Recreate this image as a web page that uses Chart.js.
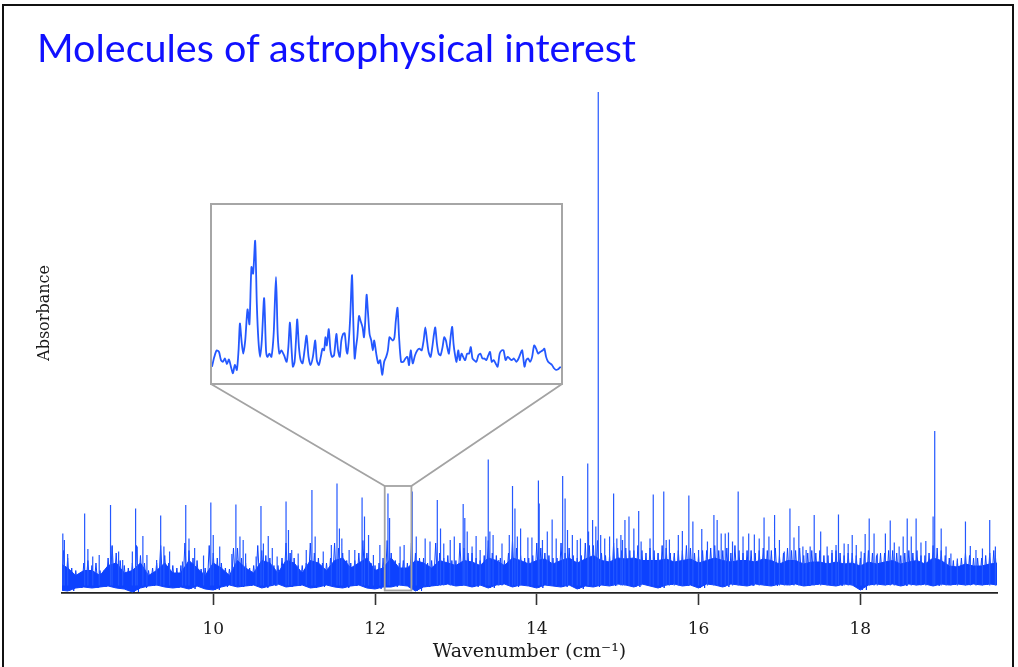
<!DOCTYPE html>
<html>
<head>
<meta charset="utf-8">
<title>Molecules of astrophysical interest</title>
<script src="https://cdn.jsdelivr.net/npm/chart.js@4.4.0/dist/chart.umd.min.js"></script>
<style>
  html, body { margin: 0; padding: 0; background: #fff; }
  #slide { position: relative; width: 1018px; height: 667px; overflow: hidden; }
  #frame { position: absolute; left: 2px; top: 4px; width: 1012px; height: 700px;
           border: 2px solid #111; box-sizing: border-box; }
  #heading { position: absolute; left: 37px; top: 30px; margin: 0; font-family: Lato, sans-serif;
             font-weight: normal; color: #1010ff; line-height: 1; white-space: nowrap; }
  #main { position: absolute; left: 0; top: 0; }
  #zoomBox { position: absolute; left: 210px; top: 203px; width: 353px; height: 182px;
             border: 2px solid #a6a6a6; box-sizing: border-box; background: #fff; }
  #zoomBox canvas { display: block; }
</style>
</head>
<body>
<div id="slide">
  <div id="frame"></div>
  <canvas id="main" width="1018" height="667"></canvas>
  <h1 id="heading">Molecules of astrophysical interest</h1>
  <div id="zoomBox"><canvas id="inset" width="349" height="178"></canvas></div>
</div>
<script>
// ---------- spectrum data (wavenumber in cm-1, absorbance in arbitrary units) ----------
const xTicks = [10, 12, 14, 16, 18];

// strong lines: position and peak height
const peakX = [
  8.14, 8.16, 8.20, 8.41, 8.45, 8.51, 8.59, 8.73, 8.75, 8.83, 8.88, 9.00, 9.04, 9.06, 9.13, 9.18,
  9.30, 9.35, 9.39, 9.46, 9.62, 9.66, 9.70, 9.77, 9.88, 9.97, 10.00, 10.08, 10.23, 10.28, 10.33, 10.37,
  10.40, 10.53, 10.59, 10.62, 10.68, 10.73, 10.79, 10.90, 10.93, 10.97, 11.05, 11.15, 11.22, 11.26,
  11.36, 11.46, 11.53, 11.56, 11.59, 11.68, 11.75, 11.84, 11.87, 11.92, 11.98, 12.06, 12.16, 12.18,
  12.31, 12.36, 12.46, 12.51, 12.62, 12.68,
  12.77, 12.81, 12.85, 12.93, 12.98, 13.09, 13.11, 13.14, 13.20, 13.25, 13.30, 13.37, 13.40, 13.42,
  13.46, 13.53, 13.57, 13.66, 13.70, 13.73, 13.76, 13.80, 13.89, 13.94, 14.02, 14.03, 14.07, 14.13,
  14.19, 14.24, 14.32, 14.35, 14.38, 14.44, 14.50, 14.54, 14.63, 14.64, 14.69, 14.73, 14.76, 14.79,
  14.84, 14.90, 14.95, 14.99, 15.04, 15.06,
  15.09, 15.14, 15.20, 15.26, 15.29, 15.40, 15.44, 15.50, 15.57, 15.60, 15.64, 15.70, 15.75, 15.80,
  15.88, 15.93, 16.00, 16.04, 16.11, 16.19, 16.23, 16.28, 16.33, 16.37, 16.42, 16.49, 16.55, 16.62,
  16.69, 16.75, 16.81, 16.87, 16.94, 17.00, 17.06, 17.13, 17.18, 17.24, 17.29, 17.33,
  17.38, 17.43, 17.51, 17.59, 17.65, 17.70, 17.73, 17.80, 17.85, 17.90, 17.95, 18.01, 18.06, 18.11,
  18.17, 18.21, 18.31, 18.37, 18.42, 18.48, 18.53, 18.58, 18.63, 18.69, 18.75, 18.81, 18.90, 18.92,
  19.00, 19.06, 19.12, 19.20, 19.30, 19.36, 19.43, 19.51, 19.60, 19.67
];
const peakY = [
  11.9, 10.6, 7.8, 15.9, 8.8, 7.3, 7.6, 17.6, 9.3, 8.3, 6.6, 8.3, 16.9, 9.3, 11.4, 7.6,
  6.6, 15.5, 9.3, 8.3, 6.3, 17.6, 10.9, 9.0, 7.5, 18.1, 11.6, 9.3, 7.8, 17.7, 11.3, 10.6,
  7.9, 7.3, 17.4, 9.9, 11.4, 9.0, 7.3, 18.3, 12.6, 8.6, 7.9, 8.6, 20.6, 11.3,
  8.3, 9.6, 21.9, 12.9, 10.9, 8.6, 8.6, 19.1, 15.3, 11.6, 7.6, 9.6, 19.9, 15.0,
  9.3, 9.6, 20.3, 11.3, 10.9, 10.3,
  18.6, 12.9, 9.9, 10.6, 11.3, 17.8, 15.0, 12.3, 9.3, 11.4, 8.6, 11.3, 26.7, 12.3,
  11.6, 6.6, 9.9, 11.6, 21.4, 16.9, 11.3, 12.9, 11.1, 11.1, 22.5, 17.9, 10.6, 12.3,
  14.7, 10.9, 23.4, 18.9, 12.6, 11.6, 10.6, 10.9, 25.9, 12.3, 14.6, 13.3, 100.2, 11.6,
  10.9, 11.3, 19.9, 10.9, 11.6, 10.6,
  14.6, 15.3, 12.9, 16.4, 10.3, 10.9, 19.7, 7.9, 20.3, 10.6, 10.7, 7.3, 11.6, 12.4,
  19.5, 14.3, 8.6, 12.8, 10.3, 15.6, 14.6, 11.9, 11.9, 12.1, 10.3, 20.3, 11.3, 11.9,
  11.7, 10.9, 15.1, 11.3, 15.6, 10.6, 8.3, 16.9, 11.1, 13.4, 9.3, 8.6,
  9.3, 15.6, 12.3, 9.3, 8.6, 9.6, 15.7, 9.9, 9.8, 11.6, 9.6, 8.3, 11.8, 14.9,
  11.9, 7.9, 11.9, 14.5, 10.1, 9.3, 11.3, 14.9, 11.3, 14.9, 10.1, 10.4, 15.3, 32.4,
  12.9, 9.3, 7.9, 6.9, 14.3, 9.4, 8.6, 8.9, 14.6, 9.3
];

// upper edge of the line forest (fine hairs), every 0.05 cm-1 from 8.10 to 19.70
const forestStart = 8.1;
const forestStep = 0.05;
const forestTop = [
  7.5, 8.5, 7, 5, 4.5, 4, 6, 6.5, 5.5, 6, 4.5, 4.5, 7, 9.5, 8, 6.5, 5.5, 5, 6, 9.5,
  7.5, 6, 4.5, 5, 6, 9.5, 7.5, 6, 5.5, 5, 5.5, 10, 8.5, 7, 6.5, 4.8, 5, 9.5, 8, 7,
  6, 5, 4.8, 9, 9, 7, 6, 5, 5.5, 9.5, 8.5, 7.5, 7, 5.5, 5.5, 7, 10, 8, 7, 5.5,
  5.5, 6, 10, 8, 7, 6, 6, 7, 10, 9, 8, 6.5, 6, 6.5, 8, 10.5, 8, 6, 5.5, 6,
  7, 10.5, 8, 6.5, 6, 6.5, 6, 10, 8, 7, 7, 6, 6.5, 10, 8, 7, 7.5, 6.5, 6.5, 10,
  9, 8, 8, 7, 6.5, 7.5, 10.5, 8, 7.5, 7, 6.5, 8, 10.5, 9, 7.5, 7, 7, 7.5, 10, 9,
  8, 7.5, 7, 7, 10, 8, 9, 7.5, 7, 7.5, 10, 9.5, 9.5, 10.5, 8, 7.5, 7.5, 10, 9, 8.5,
  9, 8.5, 8.5, 9.5, 8.5, 8, 9, 8.5, 8, 9.5, 9, 8, 8, 8.5, 8.5, 9.5, 9, 8, 7.5, 8.5,
  8.5, 9, 9.5, 8.5, 8.5, 9, 8, 9.5, 8.5, 8, 8.5, 8.5, 8, 8.5, 9, 8.5, 8.5, 9, 7.5, 8,
  9, 8.5, 8.5, 9, 7.5, 8, 8.5, 8, 8.5, 7.5, 7.5, 8, 8.5, 8, 7.5, 8, 8, 7.5, 7, 8,
  8.5, 8, 7.5, 8, 8, 8.5, 8.5, 8, 7.5, 8, 8.5, 8, 8.5, 7.5, 7.5, 8, 9.5, 9, 8.5, 7.5,
  7, 6.5, 6.5, 7, 8, 7.5, 7, 7, 7, 7.5, 8, 8.5, 8
];
// solid core of the forest, every 0.1 cm-1 from 8.1 to 19.7
const bandStep = 0.1;
const coreTop = [
  6, 5, 3.5, 4.5, 4.5, 3.5, 5.5, 6, 4, 4.5,
  6, 3.5, 4.5, 6, 4, 4, 6.5, 5, 3.5, 6,
  5, 3.5, 6.5, 5, 4, 6.5, 6, 4, 6.5, 6,
  4, 6.5, 6, 4.5, 6.5, 7, 5, 6, 7, 4.5,
  5, 7, 5, 5, 6.5, 6, 5, 6.5, 6, 5.5,
  6.5, 6.2, 5.5, 7, 6.5, 5.5, 7, 6.5, 5.8, 6.5,
  6.8, 5.8, 6.5, 7, 6, 6.8, 7.5, 6.5, 6.2, 7,
  6.8, 7, 6.5, 6.5, 6.5, 6.8, 6.2, 6.5, 6.8, 6,
  6.5, 7, 6.5, 6.2, 6.5, 6.5, 6.2, 6.8, 6.5, 5.8,
  6.5, 6.5, 5.8, 6.2, 6.2, 5.8, 6.2, 5.8, 6, 5.4,
  6.2, 5.8, 6.2, 6.5, 5.8, 6.2, 6.5, 5.8, 7, 6.5,
  5.4, 5.2, 5.8, 5.4, 5.4, 5.8, 6
];
// lower edge of the forest, every 0.1 cm-1 from 8.1 to 19.7
const noiseFloor = [
  0.6, 0.4, 1.0, 1.2, 1.0, 1.2, 1.4, 1.0, 0.8, 0.2,
  1.0, 1.4, 1.6, 1.2, 1.0, 1.2, 0.8, 1.4, 0.8, 0.6,
  1.2, 1.6, 1.2, 1.4, 1.6, 1.0, 1.4, 1.8, 1.2, 1.4,
  1.6, 1.0, 1.2, 1.6, 1.2, 1.0, 1.4, 1.6, 1.0, 0.8,
  1.2, 1.2, 1.6, 1.4, 0.4, 1.2, 1.4, 1.6, 1.8, 1.4,
  1.6, 1.2, 1.6, 1.0, 1.6, 1.8, 1.2, 1.6, 1.4, 1.0,
  1.6, 1.4, 1.2, 1.6, 0.8, 1.4, 1.2, 1.6, 1.4, 1.8,
  1.6, 1.2, 1.8, 1.4, 1.0, 1.6, 1.8, 1.4, 1.6, 1.0,
  1.8, 1.6, 1.2, 1.8, 1.6, 1.4, 1.8, 1.6, 1.4, 1.8,
  1.6, 1.8, 1.4, 1.6, 1.8, 1.6, 1.4, 1.8, 1.6, 0.6,
  1.6, 1.8, 1.6, 1.8, 1.4, 1.8, 1.6, 1.8, 1.4, 1.8,
  1.6, 1.8, 1.6, 1.8, 1.6, 1.8, 1.6
];

// zoomed window 12.12 - 12.45 cm-1 (own vertical scale)
const insetX = [
  12.1200, 12.1222, 12.1244, 12.1266, 12.1285, 12.1304, 12.1322, 12.1341, 12.1360, 12.1379,
  12.1398, 12.1416, 12.1435, 12.1451, 12.1464, 12.1479, 12.1495, 12.1514, 12.1536, 12.1554,
  12.1573, 12.1589, 12.1608, 12.1624, 12.1639, 12.1655, 12.1671, 12.1693, 12.1711, 12.1724,
  12.1743, 12.1762, 12.1783, 12.1805, 12.1821, 12.1837, 12.1856, 12.1881, 12.1906, 12.1922,
  12.1937, 12.1953, 12.1965, 12.1981, 12.1994, 12.2006, 12.2022, 12.2038, 12.2056, 12.2075,
  12.2094, 12.2113, 12.2132, 12.2154, 12.2176, 12.2191, 12.2210, 12.2229, 12.2245, 12.2260,
  12.2273, 12.2285, 12.2304, 12.2320, 12.2336, 12.2354, 12.2376, 12.2392, 12.2408, 12.2423,
  12.2439, 12.2455, 12.2471, 12.2480, 12.2496, 12.2508, 12.2524, 12.2536, 12.2549, 12.2562,
  12.2574, 12.2590, 12.2605, 12.2624, 12.2637, 12.2649, 12.2662, 12.2674, 12.2690, 12.2706,
  12.2721, 12.2734, 12.2753, 12.2772, 12.2790, 12.2809, 12.2828, 12.2847, 12.2863, 12.2878,
  12.2894, 12.2910, 12.2925, 12.2938, 12.2954, 12.2969, 12.2988, 12.3010, 12.3029, 12.3048,
  12.3063, 12.3079, 12.3098, 12.3120, 12.3142, 12.3161, 12.3183, 12.3201, 12.3217, 12.3233,
  12.3248, 12.3267, 12.3283, 12.3299, 12.3311, 12.3327, 12.3343, 12.3361, 12.3380, 12.3396,
  12.3412, 12.3424, 12.3440, 12.3456, 12.3471, 12.3484, 12.3496, 12.3512, 12.3528, 12.3543,
  12.3559, 12.3575, 12.3594, 12.3612, 12.3631, 12.3647, 12.3663, 12.3678, 12.3700, 12.3719,
  12.3738, 12.3757, 12.3776, 12.3794, 12.3813, 12.3829, 12.3845, 12.3863, 12.3882, 12.3901,
  12.3920, 12.3939, 12.3957, 12.3976, 12.3995, 12.4014, 12.4033, 12.4055, 12.4077, 12.4099,
  12.4117, 12.4133, 12.4155, 12.4171, 12.4190, 12.4208, 12.4227, 12.4246, 12.4265, 12.4284,
  12.4302, 12.4328, 12.4343, 12.4359, 12.4378, 12.4397, 12.4415, 12.4434, 12.4453, 12.4472,
  12.4491, 12.4500
];
const insetY = [
  10, 16, 20, 19, 14, 13, 15, 11.6, 14.4, 10,
  6, 11, 8, 20, 36.4, 26, 18, 26, 45, 36,
  71, 67, 87, 48, 26, 16, 26, 52, 20, 16,
  18, 16, 30, 65, 30, 18, 20, 17, 13, 22,
  37, 20, 10, 13, 26, 39, 22, 14, 12, 20,
  29, 16, 11, 16, 26, 14, 11, 16, 21, 20,
  28, 23, 33, 20, 16, 17, 30, 20, 16, 26,
  30, 30.4, 20, 18, 28, 42, 66, 38, 15, 22,
  28, 41, 38, 34, 28, 38, 54, 44, 30, 26,
  20, 26, 18, 12, 14, 5, 13, 16, 20, 28,
  27, 26, 28, 38, 46, 28, 13, 13, 15, 16,
  11, 20, 12, 17, 20, 21, 20, 26, 34, 26,
  19, 16, 22, 30, 34, 24, 18, 17, 22, 28,
  26, 22, 18, 28, 34.4, 24, 18, 13, 20, 14,
  18, 16, 14, 18, 18, 22, 15, 14, 13, 17,
  18, 15, 15, 14, 17, 19, 13, 14, 12, 10,
  18, 20, 20, 14, 16, 15, 14, 15, 13, 15,
  18, 20, 10, 14, 15, 13, 16, 23, 21, 18,
  19, 20, 21, 16, 13, 12, 11, 9, 8, 8.4,
  9.6, 9.6
];

// axis ranges and the marked zoom window
const xMin = 8.13, xMax = 19.69;
const yMax = 112;
const zoomFrom = 12.12, zoomTo = 12.45;
const zoomLow = 0.5, zoomHigh = 21.4;
const insetYMax = 109;
const spikeBase = 1.5;

const BLUE = '#0d42ff';
const LINE_BLUE = '#2458ff';
const GREY = '#a3a3a3';
const SERIF = "'DejaVu Serif', serif";

// ---------- heading: fit to the slide title width ----------
const heading = document.getElementById('heading');
const measure = document.createElement('canvas').getContext('2d');
measure.font = '100px Lato';
const headSize = 100 * 599 / measure.measureText(heading.textContent).width;
heading.style.fontSize = headSize.toFixed(1) + 'px';
heading.style.top = (62 - 0.887 * headSize).toFixed(1) + 'px';

// ---------- build point lists ----------
const at = (start, step, i) => +(start + i * step).toFixed(3);

const floorPts = noiseFloor.map((v, i) => ({ x: at(forestStart, bandStep, i), y: v }));
const corePts = coreTop.map((v, i) => ({ x: at(forestStart, bandStep, i), y: v }));

// hairs: saw-tooth running between the upper edge and the floor
const forestPts = [];
forestTop.forEach((v, i) => {
  const x = at(forestStart, forestStep, i);
  forestPts.push({ x, y: v });
  forestPts.push({ x: +(x + forestStep / 2).toFixed(3), y: noiseFloor[Math.floor(i / 2)] });
});

const spikePts = [];
peakX.forEach((x, i) => {
  spikePts.push({ x, y: spikeBase }, { x, y: peakY[i] }, { x, y: null });
});

// zoom window marker + leader lines to the inset box
const zoomMarker = {
  id: 'zoomMarker',
  afterDatasetsDraw(chart) {
    const { ctx, scales: { x, y } } = chart;
    const l = x.getPixelForValue(zoomFrom), r = x.getPixelForValue(zoomTo);
    const t = y.getPixelForValue(zoomHigh), b = y.getPixelForValue(zoomLow);
    const box = document.getElementById('zoomBox');
    const bl = box.offsetLeft, br = box.offsetLeft + box.offsetWidth;
    const bb = box.offsetTop + box.offsetHeight;

    ctx.save();
    ctx.strokeStyle = GREY;
    ctx.lineWidth = 1.8;
    ctx.strokeRect(l, t, r - l, b - t);
    ctx.beginPath();
    ctx.moveTo(bl + 1, bb - 1);
    ctx.lineTo(l, t);
    ctx.moveTo(br - 1, bb - 1);
    ctx.lineTo(r, t);
    ctx.stroke();
    ctx.restore();
  }
};

// ---------- main spectrum ----------
new Chart(document.getElementById('main'), {
  type: 'line',
  data: {
    datasets: [
      { data: spikePts, borderColor: LINE_BLUE, borderWidth: 1.2, pointRadius: 0, fill: false, spanGaps: false },
      { data: forestPts, borderColor: BLUE, borderWidth: 1, pointRadius: 0, fill: false },
      { data: corePts, borderColor: BLUE, borderWidth: 1, pointRadius: 0,
        fill: { target: 3 }, backgroundColor: BLUE },
      { data: floorPts, borderColor: BLUE, borderWidth: 1, pointRadius: 0, fill: false }
    ]
  },
  options: {
    responsive: false,
    animation: false,
    events: [],
    layout: { padding: { left: 31, right: 21, top: 33, bottom: 0 } },
    plugins: { legend: { display: false }, tooltip: { enabled: false }, filler: { propagate: false } },
    scales: {
      x: {
        type: 'linear',
        min: xMin,
        max: xMax,
        afterBuildTicks: s => { s.ticks = xTicks.map(v => ({ value: v })); },
        ticks: { font: { family: SERIF, size: 17 }, color: '#1a1a1a', padding: 14, maxRotation: 0 },
        grid: { display: true, drawOnChartArea: false, drawTicks: true, tickLength: 12, tickWidth: 1.6, tickColor: '#333' },
        border: { display: true, color: '#222', width: 1.8 },
        title: { display: true, text: 'Wavenumber (cm⁻¹)', font: { family: SERIF, size: 19 }, color: '#1a1a1a', padding: { top: 2, bottom: 4 } },
        afterFit: s => { s.height = 74; }
      },
      y: {
        min: 0,
        max: yMax,
        ticks: { display: false },
        grid: { display: false },
        border: { display: false },
        title: { display: true, text: 'Absorbance', font: { family: SERIF, size: 16 }, color: '#1a1a1a', padding: { top: 4, bottom: 4 } },
        afterFit: s => { s.width = 31; }
      }
    }
  },
  plugins: [zoomMarker]
});

// ---------- inset: zoomed window ----------
new Chart(document.getElementById('inset'), {
  type: 'line',
  data: {
    datasets: [{
      data: insetX.map((x, i) => ({ x, y: insetY[i] })),
      borderColor: LINE_BLUE,
      borderWidth: 1.8,
      pointRadius: 0,
      tension: 0.25,
      fill: false
    }]
  },
  options: {
    responsive: false,
    animation: false,
    events: [],
    layout: { padding: 0 },
    plugins: { legend: { display: false }, tooltip: { enabled: false } },
    scales: {
      x: { type: 'linear', min: zoomFrom, max: zoomTo, display: false },
      y: { min: 0, max: insetYMax, display: false }
    }
  }
});
</script>
</body>
</html>
